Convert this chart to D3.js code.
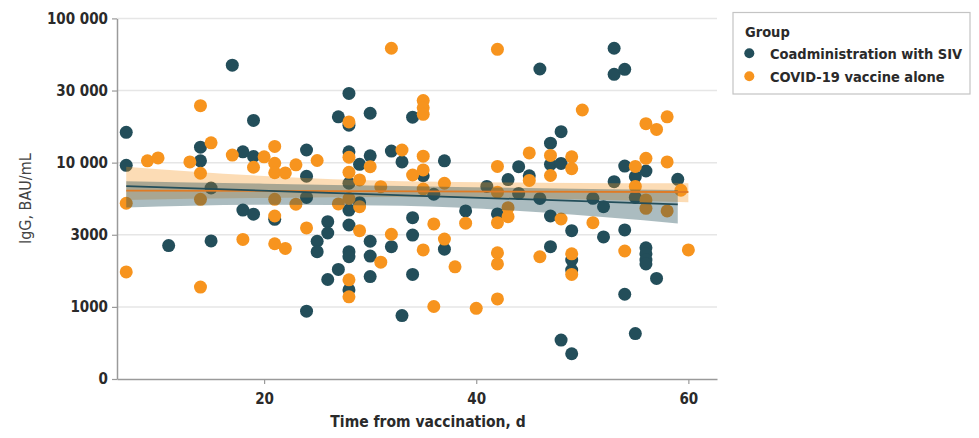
<!DOCTYPE html>
<html><head><meta charset="utf-8">
<script src="https://cdn.jsdelivr.net/npm/d3@7"></script>
<style>
body{margin:0;background:#fff}
svg{display:block}
text{font-family:"DejaVu Sans Condensed","DejaVu Sans",sans-serif;font-stretch:condensed;font-weight:bold;fill:#2a2a2a}
</style></head>
<body><svg id="c" width="979" height="438"></svg>
<script>
// ---------- data ----------
const groups = ["Coadministration with SIV", "COVID-19 vaccine alone"];
const yTicks = [0, 1000, 3000, 10000, 30000, 100000];
const xTicks = [20, 40, 60];

// [day, IgG BAU/mL]
const coadmin = [[7,18400],[7,9740],[11,2700],[14,14300],[14,10500],[15,7540],[15,2830],[17,54600],[18,13000],[18,5400],[19,21700],[19,11700],[19,5000],[21,4500],[24,13500],[24,8680],[24,6620],[24,940],[25,2820],[25,2530],[26,4270],[26,3170],[26,1760],[27,22700],[27,2040],[28,29200],[28,20400],[28,13000],[28,8000],[28,5400],[28,3950],[28,2530],[28,2390],[28,1470],[29,9840],[29,6110],[30,23700],[30,11900],[30,2820],[30,2410],[30,1840],[32,13200],[32,2670],[33,10200],[33,880],[34,22600],[34,4660],[34,2990],[34,1900],[35,8730],[36,6930],[37,10500],[37,2600],[39,5310],[41,7690],[42,5020],[43,8360],[44,9610],[44,7010],[45,8730],[46,50900],[46,6520],[47,15400],[47,9840],[47,4820],[47,2670],[48,18600],[48,9920],[48,540],[49,3400],[49,2300],[49,2020],[49,350],[51,6540],[52,5730],[52,2940],[53,8150],[53,71000],[53,45700],[54,50600],[54,9670],[54,3470],[54,1350],[55,8640],[55,6620],[55,630],[56,9190],[56,2640],[56,2470],[56,2300],[56,2190],[57,1790],[59,8380]];

const alone = [[7,6060],[7,1970],[9,10500],[10,11300],[13,10200],[14,25800],[14,8970],[14,6440],[14,1550],[15,15500],[17,12100],[18,2870],[19,9550],[20,11600],[21,14500],[21,9940],[21,9020],[21,6440],[21,4820],[21,2750],[22,9000],[22,2620],[23,9790],[23,5970],[24,3660],[25,10600],[27,5990],[28,21300],[28,11500],[28,9060],[28,6520],[28,1750],[28,1280],[29,8320],[29,5730],[29,3400],[30,9610],[31,7670],[31,2240],[32,71000],[32,3050],[33,13500],[34,8800],[35,9290],[35,11800],[35,27200],[35,25200],[35,23400],[35,7440],[35,2580],[36,4050],[36,1010],[37,2880],[37,8000],[38,2110],[39,4120],[40,980],[42,70000],[42,9630],[42,7130],[42,4170],[42,2500],[42,2190],[42,1220],[43,5630],[43,4760],[45,12700],[45,8270],[46,2390],[47,12000],[47,8750],[48,4530],[49,11600],[49,9410],[49,2470],[49,1900],[50,24600],[51,4170],[54,2550],[55,9630],[55,7690],[56,20800],[56,11200],[56,6380],[56,5570],[57,19200],[58,22700],[58,10200],[58,5310],[59.3,7320],[60,2580]];

// fitted lines (day, value)
const coadminFitDays = [7, 59];
const coadminFit = [7730, 5950];
const aloneFitDays = [7, 60];
const aloneFit = [7280, 7150];

// confidence bands
const coadminBandDays = [7, 20, 33, 46, 59];
const coadminLower = [5650, 5910, 5810, 5180, 4100];
const coadminUpper = [8200, 7950, 7730, 7520, 7350];
const aloneBandDays = [7, 20, 33, 46, 60];
const aloneLower = [6380, 6570, 6670, 6520, 6150];
const aloneUpper = [9610, 8710, 8200, 8050, 7990];

// ---------- layout ----------
const colors = ["#234e5a", "#f7941e"];
const lineColors = ["#234e5a", "#e07b24"];
const L = 117, R = 717, T = 18.4, B = 379;

const svg = d3.select("#c");
const x = d3.scaleLinear().domain([6.13, 62.7]).range([L, R]);
const y = d3.scaleLinear().domain(yTicks)
  .range(yTicks.map((d, i) => B - i * (B - T) / (yTicks.length - 1)));

// gridlines
svg.append("g").selectAll("line").data(yTicks.slice(1)).join("line")
  .attr("x1", L).attr("x2", R)
  .attr("y1", d => y(d)).attr("y2", d => y(d))
  .attr("stroke", "#e6e6e6").attr("stroke-width", 1.5);

// points
const pts = svg.append("g");
[coadmin, alone].forEach((data, gi) => {
  pts.append("g").selectAll("circle").data(data).join("circle")
    .attr("cx", d => x(d[0])).attr("cy", d => y(d[1]))
    .attr("r", 6.5).attr("fill", colors[gi]);
});

// bands
const bands = [
  {days: aloneBandDays, lo: aloneLower, hi: aloneUpper, c: colors[1], o: 0.33},
  {days: coadminBandDays, lo: coadminLower, hi: coadminUpper, c: colors[0], o: 0.38}
];
bands.forEach(b => {
  const data = b.days.map((d, i) => [d, b.lo[i], b.hi[i]]);
  svg.append("path").datum(data)
    .attr("d", d3.area().x(d => x(d[0])).y0(d => y(d[1])).y1(d => y(d[2])).curve(d3.curveMonotoneX))
    .attr("fill", b.c).attr("fill-opacity", b.o);
});

// fit lines
[[aloneFitDays, aloneFit, lineColors[1]], [coadminFitDays, coadminFit, lineColors[0]]].forEach(([ds, vs, c]) => {
  svg.append("path").datum(ds.map((d, i) => [d, vs[i]]))
    .attr("d", d3.line().x(d => x(d[0])).y(d => y(d[1])))
    .attr("fill", "none").attr("stroke", c).attr("stroke-width", 1.8);
});

// axes
const fmt = d => d >= 10000 ? d3.format(",")(d).replace(/,/g, " ") : String(d);
const yAxis = svg.append("g").attr("transform", `translate(${L},0)`)
  .call(d3.axisLeft(y).tickValues(yTicks).tickFormat(fmt).tickSize(5).tickSizeOuter(0).tickPadding(4));
const xAxis = svg.append("g").attr("transform", `translate(0,${B})`)
  .call(d3.axisBottom(x).tickValues(xTicks).tickSize(5).tickSizeOuter(0).tickPadding(9));
[yAxis, xAxis].forEach(a => {
  a.select(".domain").attr("stroke", "#9a9a9a").attr("stroke-width", 1.5);
  a.selectAll(".tick line").attr("stroke", "#9a9a9a").attr("stroke-width", 1.2);
  a.selectAll("text").attr("font-size", 15).attr("font-family", null).attr("fill", null);
});

// titles
svg.append("text").attr("x", 428).attr("y", 426.5).attr("text-anchor", "middle")
  .attr("font-size", 15.5).text("Time from vaccination, d");
svg.append("text").attr("transform", `translate(31,${(T + B) / 2}) rotate(-90)`)
  .attr("text-anchor", "middle").attr("font-size", 16)
  .style("font-weight", "normal").style("font-stretch", "normal").style("fill", "#444")
  .text("IgG, BAU/mL");

// legend
const lg = svg.append("g");
lg.append("rect").attr("x", 733).attr("y", 12.5).attr("width", 237).attr("height", 81.5)
  .attr("fill", "#fff").attr("stroke", "#c4c4c4").attr("stroke-width", 1.2);
lg.append("text").attr("x", 745).attr("y", 36.7).attr("font-size", 14.5).text("Group");
groups.forEach((g, i) => {
  const cy = 53.3 + i * 23;
  lg.append("circle").attr("cx", 749.3).attr("cy", cy).attr("r", 5).attr("fill", colors[i]);
  lg.append("text").attr("x", 770).attr("y", cy + 5.5).attr("font-size", 14.5).text(g);
});
</script>
</body></html>
